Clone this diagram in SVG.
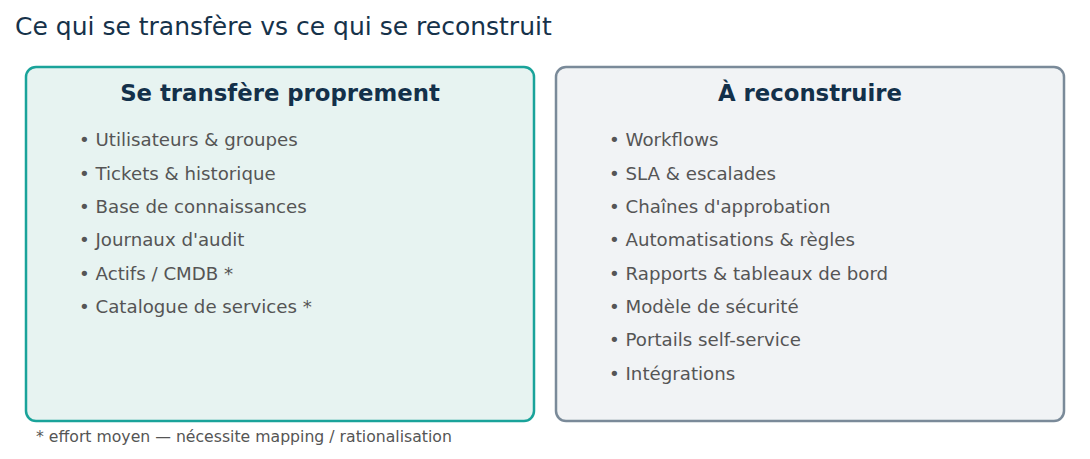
<svg xmlns="http://www.w3.org/2000/svg" width="1090" height="459" viewBox="0 0 1090 459">
<style>
text{font-family:"DejaVu Sans",sans-serif}
.t{font-size:25px;fill:#16324a}
.h{font-size:22.8px;font-weight:bold;fill:#13304a;text-anchor:middle}
.b{font-size:18.2px;fill:#555}
.f{font-size:15.7px;fill:#555}
</style>
<rect width="1090" height="459" fill="#fff"/>
<text class="t" x="15" y="35">Ce qui se transfère vs ce qui se reconstruit</text>
<g id="left">
<rect x="26" y="67" width="508" height="354" rx="10" fill="#e7f3f1" stroke="#1aa39a" stroke-width="2.5"/>
<text class="h" x="280" y="101">Se transfère proprement</text>
<text class="b" x="79" y="146">• Utilisateurs &amp; groupes</text>
<text class="b" x="79" y="180">• Tickets &amp; historique</text>
<text class="b" x="79" y="213">• Base de connaissances</text>
<text class="b" x="79" y="246">• Journaux d'audit</text>
<text class="b" x="79" y="280">• Actifs / CMDB *</text>
<text class="b" x="79" y="313">• Catalogue de services *</text>
</g>
<g id="right">
<rect x="556" y="67" width="508" height="354" rx="10" fill="#f1f3f5" stroke="#7a8a99" stroke-width="2.5"/>
<text class="h" x="810" y="101">À reconstruire</text>
<text class="b" x="609" y="146">• Workflows</text>
<text class="b" x="609" y="180">• SLA &amp; escalades</text>
<text class="b" x="609" y="213">• Chaînes d'approbation</text>
<text class="b" x="609" y="246">• Automatisations &amp; règles</text>
<text class="b" x="609" y="280">• Rapports &amp; tableaux de bord</text>
<text class="b" x="609" y="313">• Modèle de sécurité</text>
<text class="b" x="609" y="346">• Portails self-service</text>
<text class="b" x="609" y="380">• Intégrations</text>
</g>
<g id="connectors"></g>
<text class="f" x="36" y="442">* effort moyen — nécessite mapping / rationalisation</text>
</svg>
